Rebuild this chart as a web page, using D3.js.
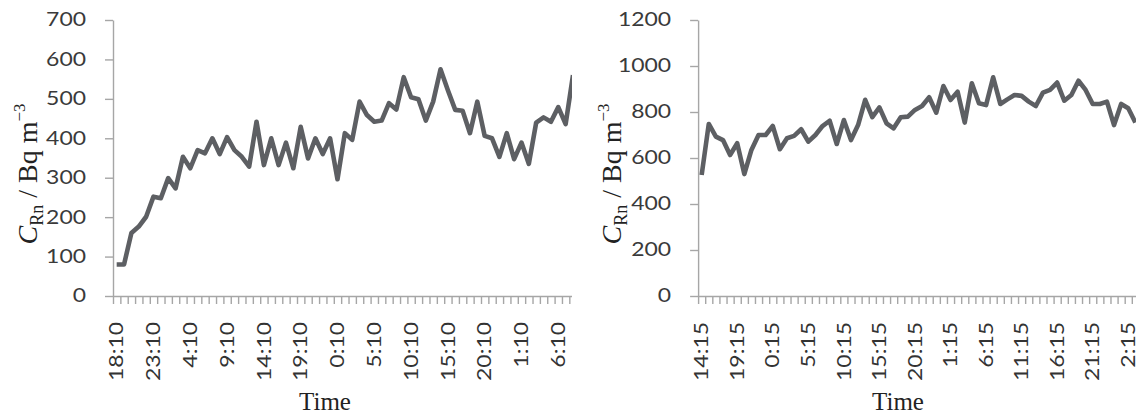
<!DOCTYPE html>
<html><head><meta charset="utf-8">
<script src="https://cdn.jsdelivr.net/npm/d3@7"></script>
<style>
html,body{margin:0;padding:0;background:#fff;overflow:hidden}
</style></head><body>
<svg id="c" width="1136" height="414"></svg>
<script>
// ---- data ----
const leftValues = [80,80,160,176,201,252,248,299,273,353,324,370,362,400,360,403,370,353,328,442,
  332,400,332,389,324,429,349,400,360,400,296,413,396,493,459,442,445,489,473,555,
  504,499,445,493,575,522,472,470,413,493,406,400,353,413,347,389,335,440,453,442,
  479,436,560];
const leftTickLabels = ["18:10","23:10","4:10","9:10","14:10","19:10","0:10","5:10","10:10","15:10","20:10","1:10","6:10"];
const leftYTicks = [0,100,200,300,400,500,600,700];

const rightValues = [526,748,693,678,613,664,530,635,700,700,739,638,686,696,725,671,700,739,762,661,
  765,678,743,853,778,820,751,729,777,780,809,826,864,797,913,852,888,754,925,838,
  830,951,835,855,874,870,845,826,884,896,928,849,874,936,896,835,835,845,743,835,
  816,754];
const rightTickLabels = ["14:15","19:15","0:15","5:15","10:15","15:15","20:15","1:15","6:15","11:15","16:15","21:15","2:15"];
const rightYTicks = [0,200,400,600,800,1000,1200];

const labelEvery = 5;

// ---- drawing ----
const svg = d3.select("#c");
const TOP = 20, BOTTOM = 296;
const AXIS_COLOR = "#a6a6a6";
const LINE_COLOR = "#5d5f63";
const STRETCH = 1.24;

function stretchText(sel){
  sel.each(function(){
    const w = this.getComputedTextLength();
    d3.select(this).attr("textLength", w*STRETCH).attr("lengthAdjust","spacingAndGlyphs");
  });
}

function panel(cfg){
  const g = svg.append("g");
  if (cfg.clipW){
    svg.append("defs").append("clipPath").attr("id", cfg.id+"clip")
      .append("rect").attr("x",0).attr("y",0).attr("width",cfg.clipW).attr("height",414);
    g.attr("clip-path","url(#"+cfg.id+"clip)");
  }
  const n = cfg.nBands;
  const x = d3.scaleBand().domain(d3.range(n)).range([cfg.x0, cfg.x0 + n*cfg.band]).padding(0);
  const xb = d3.scaleLinear().domain([0,n]).range([cfg.x0, cfg.x0 + n*cfg.band]);
  const y = d3.scaleLinear().domain([0, cfg.yMax]).range([BOTTOM, TOP]);

  // y axis
  const ya = g.append("g").attr("transform","translate("+cfg.x0+",0)")
    .call(d3.axisLeft(y).tickValues(cfg.yTicks).tickFormat(d3.format("d"))
      .tickSize(8).tickSizeOuter(0).tickPadding(19));
  ya.selectAll("path,line").attr("stroke",AXIS_COLOR).attr("stroke-width",1.4);
  ya.selectAll("text").attr("font-family","Lato, 'Open Sans', sans-serif").attr("font-size",18.5)
    .attr("fill","#3a3a3a").call(stretchText);

  // x axis ticks at band boundaries
  const xa = g.append("g").attr("transform","translate(0,"+BOTTOM+")")
    .call(d3.axisBottom(xb).tickValues(d3.range(0,n+1)).tickFormat("").tickSize(8).tickSizeOuter(0));
  xa.selectAll("path,line").attr("stroke",AXIS_COLOR).attr("stroke-width",1.4);

  // x labels at band centres
  const idx = cfg.tickLabels.map((d,i)=>i*labelEvery);
  const xl = g.append("g").attr("transform","translate(0,"+BOTTOM+")")
    .call(d3.axisBottom(x).tickValues(idx).tickSize(0)
      .tickFormat(i => cfg.tickLabels[i/labelEvery]));
  xl.select("path").remove();
  xl.selectAll("text")
    .attr("transform","rotate(-90)")
    .attr("text-anchor","end")
    .attr("x",-26).attr("y",0).attr("dy","0.36em")
    .attr("font-family","Lato, 'Open Sans', sans-serif").attr("font-size",18.5)
    .attr("fill","#333").call(stretchText);

  // line
  const line = d3.line().x((d,i)=>x(i)+x.bandwidth()/2).y(d=>y(d));
  g.append("path").datum(cfg.values).attr("d",line)
    .attr("fill","none").attr("stroke",LINE_COLOR).attr("stroke-width",4.6)
    .attr("stroke-linejoin","round").attr("stroke-linecap","butt");

  // y title
  const t = g.append("text").attr("transform","translate("+cfg.titleX+",174) rotate(-90)")
    .attr("text-anchor","middle").attr("font-family","'Liberation Serif', 'Times New Roman', serif")
    .attr("font-size",28).attr("fill","#222");
  t.append("tspan").attr("font-style","italic").text("C");
  t.append("tspan").attr("font-size",18).attr("dy",6).text("Rn");
  t.append("tspan").attr("dy",-6).text(" / Bq m");
  t.append("tspan").attr("font-size",17).attr("dy",-12).text("\u22123");

  // x title
  g.append("text").attr("x",cfg.timeX).attr("y",410).attr("text-anchor","middle")
    .attr("font-family","'Liberation Serif', 'Times New Roman', serif").attr("font-size",25)
    .attr("fill","#222").text("Time");
}

panel({id:"L", x0:113, band:7.36, nBands:leftValues.length, yMax:700, yTicks:leftYTicks,
  tickLabels:leftTickLabels, values:leftValues, clipW:572, titleX:37, timeX:325});
panel({id:"R", x0:698.1, band:7.11, nBands:rightValues.length, yMax:1200, yTicks:rightYTicks,
  tickLabels:rightTickLabels, values:rightValues, titleX:621, timeX:898});
</script>
</body></html>
